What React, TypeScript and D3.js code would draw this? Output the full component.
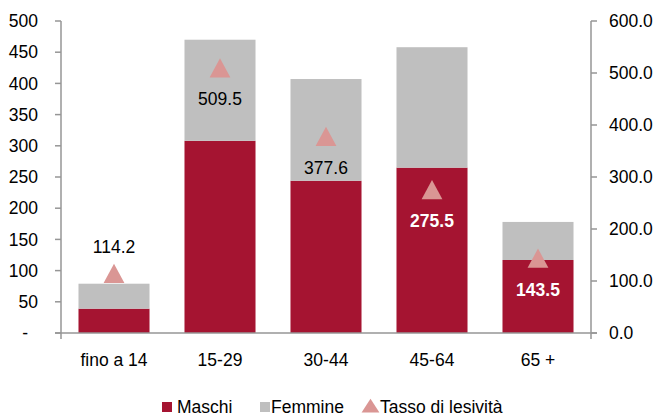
import React from "react";
import * as d3 from "d3";

const categories = ["fino a 14", "15-29", "30-44", "45-64", "65 +"];
const maschi = [39, 308, 244, 265, 117];
const femmine = [40, 162, 163, 193, 61];
const tasso = [114.2, 509.5, 377.6, 275.5, 143.5];
const leftTicks = [0, 50, 100, 150, 200, 250, 300, 350, 400, 450, 500];
const rightTicks = [0, 100, 200, 300, 400, 500, 600];

const FONT = "'Liberation Sans', Arial, sans-serif";
const C_M = "#A51431";
const C_F = "#BFBFBF";
const C_T = "#DA9694";
const AX = "#969696";

export default function App() {
  const W = 654, H = 416;
  const x0 = 61, x1 = 591, yTop = 21, yBot = 333;
  const x = d3.scaleBand().domain(categories).range([x0, x1]).paddingInner(0.33).paddingOuter(0.165);
  const yL = d3.scaleLinear().domain([0, 500]).range([yBot, yTop]);
  const yR = d3.scaleLinear().domain([0, 600]).range([yBot, yTop]);
  const tri = d3.symbol().type(d3.symbolTriangle).size(170)();

  return (
    <svg width={W} height={H} style={{ position: "absolute", left: 0, top: 0, fontFamily: FONT }}>
      <rect width={W} height={H} fill="#fff" />
      {categories.map((c, i) => {
        const bx = x(c)!;
        const bw = x.bandwidth();
        return (
          <g key={c}>
            <rect x={bx} y={yL(maschi[i])} width={bw} height={yL(0) - yL(maschi[i])} fill={C_M} />
            <rect x={bx} y={yL(maschi[i] + femmine[i])} width={bw} height={yL(maschi[i]) - yL(maschi[i] + femmine[i])} fill={C_F} />
          </g>
        );
      })}
      {/* axes */}
      <line x1={x0} x2={x0} y1={yTop} y2={yBot + 6} stroke={AX} strokeWidth={1.5} />
      <line x1={x1} x2={x1} y1={yTop} y2={yBot + 6} stroke={AX} strokeWidth={1.5} />
      <line x1={x0 - 6} x2={x1 + 6} y1={yBot} y2={yBot} stroke={AX} strokeWidth={1.5} />
      {leftTicks.map((t) => (
        <g key={"l" + t}>
          <line x1={x0 - 6} x2={x0} y1={yL(t)} y2={yL(t)} stroke={AX} strokeWidth={1.5} />
          <text x={t === 0 ? 28 : 38} y={yL(t)} dy="0.35em" textAnchor="end" fontSize={17.5} fill="#000">
            {t === 0 ? "-" : t}
          </text>
        </g>
      ))}
      {rightTicks.map((t) => (
        <g key={"r" + t}>
          <line x1={x1} x2={x1 + 6} y1={yR(t)} y2={yR(t)} stroke={AX} strokeWidth={1.5} />
          <text x={609} y={yR(t)} dy="0.35em" textAnchor="start" fontSize={17.5} fill="#000">
            {t.toFixed(1)}
          </text>
        </g>
      ))}
      {categories.map((c) => (
        <text key={"c" + c} x={x(c)! + x.bandwidth() / 2} y={360} dy="0.35em" textAnchor="middle" fontSize={17.5} fill="#000">
          {c}
        </text>
      ))}
      {/* triangles */}
      {categories.map((c, i) => {
        const cx = x(c)! + x.bandwidth() / 2;
        const cy = yR(tasso[i]);
        const white = i >= 3;
        const above = i === 0;
        return (
          <g key={"t" + c}>
            <path d={tri!} transform={`translate(${cx},${cy + 3}) scale(1.05,1.12)`} fill={C_T} />
            <text
              x={cx}
              y={above ? cy - 27 : cy + 31}
              dy="0.35em"
              textAnchor="middle"
              fontSize={17.5}
              fontWeight={white ? "bold" : "normal"}
              fill={white ? "#fff" : "#000"}
            >
              {tasso[i].toFixed(1)}
            </text>
          </g>
        );
      })}
      {/* legend */}
      <g fontSize={17.5} fill="#000">
        <rect x={162} y={402} width={10} height={10} fill={C_M} />
        <text x={177} y={407} dy="0.35em">Maschi</text>
        <rect x={260} y={402} width={10} height={10} fill={C_F} />
        <text x={271} y={407} dy="0.35em">Femmine</text>
        <path d={tri!} transform={`translate(370.5,408) scale(0.9,0.8)`} fill={C_T} />
        <text x={380} y={407} dy="0.35em">Tasso di lesività</text>
      </g>
    </svg>
  );
}
